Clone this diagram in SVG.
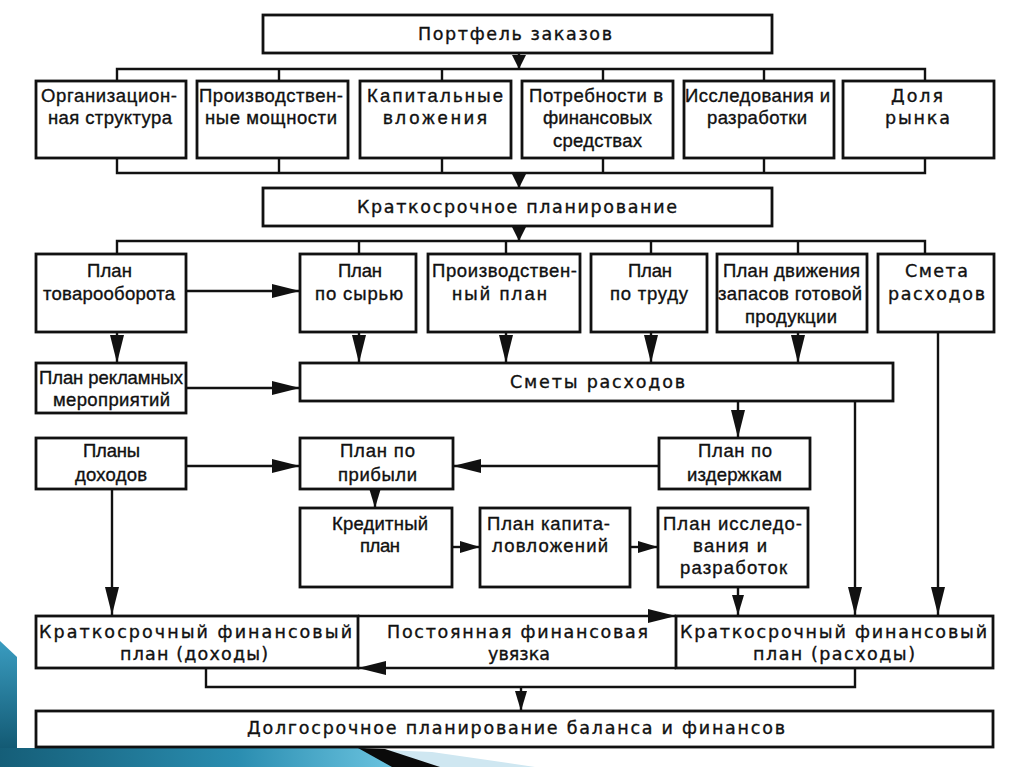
<svg xmlns="http://www.w3.org/2000/svg" width="1024" height="767" viewBox="0 0 1024 767">
<style>
.box{fill:#fff;stroke:#111;stroke-width:2.8}
.ln{fill:none;stroke:#111;stroke-width:2.4}
text{font-family:"Liberation Sans",Arial,sans-serif;font-size:18.5px;fill:#111;stroke:#111;stroke-width:0.35;text-anchor:middle}
text.w{font-family:"DejaVu Sans","Liberation Sans",sans-serif;font-size:17.5px}
</style>
<defs>
<marker id="big" markerUnits="userSpaceOnUse" markerWidth="28" markerHeight="14" refX="28" refY="7" orient="auto"><path d="M0,0 L28,7 L0,14 z" fill="#111"/></marker>
<marker id="mid" markerUnits="userSpaceOnUse" markerWidth="20" markerHeight="12" refX="20" refY="6" orient="auto"><path d="M0,0 L20,6 L0,12 z" fill="#111"/></marker>
<marker id="sm" markerUnits="userSpaceOnUse" markerWidth="14" markerHeight="14" refX="14" refY="7" orient="auto"><path d="M0,0 L14,7 L0,14 z" fill="#111"/></marker>
<linearGradient id="teal" x1="0" y1="0" x2="1" y2="0"><stop offset="0" stop-color="#155e78"/><stop offset="0.6" stop-color="#2a8db0"/><stop offset="1" stop-color="#6cc4e0"/></linearGradient>
<linearGradient id="tealv" x1="0" y1="0" x2="0" y2="1"><stop offset="0" stop-color="#3a9cc0"/><stop offset="1" stop-color="#135a74"/></linearGradient>
</defs>
<rect width="1024" height="767" fill="#fff"/>
<g id="decor">
<polygon points="0,641 17,657 17,748 0,748" fill="url(#tealv)"/>
<polygon points="0,748 365,748 395,767 0,767" fill="url(#teal)"/>
<polygon points="385,750 432,752 535,767 435,767" fill="#cfe7f1"/>
<polygon points="358,748 385,749 440,767 392,767" fill="#0a0a0a"/>
</g>
<g id="connectors">
<line class="ln" x1="519" y1="53" x2="519" y2="69" marker-end="url(#sm)"/>
<path class="ln" d="M117,81 V69 H925 V81 M279,69 V81 M442,69 V81 M603,69 V81 M764,69 V81"/>
<path class="ln" d="M117,158 V173 H925 V158 M279,158 V173 M442,158 V173 M603,158 V173 M764,158 V173"/>
<line class="ln" x1="519" y1="173" x2="519" y2="188" marker-end="url(#sm)"/>
<line class="ln" x1="519" y1="226" x2="519" y2="241" marker-end="url(#sm)"/>
<path class="ln" d="M117,254 V241 H925 V254 M359,241 V254 M506,241 V254 M651,241 V254 M798,241 V254"/>
<line class="ln" x1="186" y1="291" x2="300" y2="291" marker-end="url(#big)"/>
<line class="ln" x1="117" y1="332" x2="117" y2="363" marker-end="url(#big)"/>
<line class="ln" x1="359" y1="332" x2="359" y2="363" marker-end="url(#big)"/>
<line class="ln" x1="506" y1="332" x2="506" y2="363" marker-end="url(#big)"/>
<line class="ln" x1="651" y1="332" x2="651" y2="363" marker-end="url(#big)"/>
<line class="ln" x1="798" y1="332" x2="798" y2="363" marker-end="url(#big)"/>
<line class="ln" x1="186" y1="388" x2="300" y2="388" marker-end="url(#big)"/>
<line class="ln" x1="938" y1="332" x2="938" y2="615" marker-end="url(#big)"/>
<line class="ln" x1="855" y1="401" x2="855" y2="615" marker-end="url(#big)"/>
<line class="ln" x1="738" y1="401" x2="738" y2="438" marker-end="url(#big)"/>
<line class="ln" x1="186" y1="466" x2="300" y2="466" marker-end="url(#big)"/>
<line class="ln" x1="659" y1="466" x2="453" y2="466" marker-end="url(#big)"/>
<line class="ln" x1="375" y1="489" x2="375" y2="508" marker-end="url(#mid)"/>
<line class="ln" x1="452" y1="547" x2="480" y2="547" marker-end="url(#mid)"/>
<line class="ln" x1="630" y1="547" x2="658" y2="547" marker-end="url(#mid)"/>
<line class="ln" x1="738" y1="587" x2="738" y2="615" marker-end="url(#mid)"/>
<line class="ln" x1="112" y1="489" x2="112" y2="615" marker-end="url(#big)"/>
<line class="ln" x1="358" y1="616" x2="676" y2="616" marker-end="url(#big)"/>
<line class="ln" x1="676" y1="668" x2="358" y2="668" marker-end="url(#big)"/>
<path class="ln" d="M206,668 V687 H855 V668"/>
<line class="ln" x1="521" y1="687" x2="521" y2="711" marker-end="url(#mid)"/>
</g>
<g id="portfel"><rect class="box" x="263" y="15" width="509" height="38"/><text class="w" x="515" y="40" textLength="194">Портфель заказов</text></g>
<g id="org"><rect class="box" x="36" y="81" width="150" height="77"/><text x="109" y="102" textLength="136">Организацион-</text><text x="110" y="124" textLength="124">ная структура</text></g>
<g id="proizv"><rect class="box" x="197" y="81" width="151" height="77"/><text x="271" y="102" textLength="144">Производствен-</text><text x="271" y="124" textLength="132">ные мощности</text></g>
<g id="kapital"><rect class="box" x="360" y="81" width="151" height="77"/><text x="435" y="102" textLength="136">Капитальные</text><text x="435" y="124" textLength="104">вложения</text></g>
<g id="potreb"><rect class="box" x="522" y="81" width="151" height="77"/><text x="596" y="102" textLength="134">Потребности в</text><text x="597.5" y="124" textLength="109">финансовых</text><text x="597.5" y="147" textLength="89">средствах</text></g>
<g id="issled"><rect class="box" x="684" y="81" width="150" height="77"/><text x="757.5" y="102" textLength="145">Исследования и</text><text x="757" y="124" textLength="100">разработки</text></g>
<g id="dolya"><rect class="box" x="843" y="81" width="151" height="77"/><text class="w" x="917" y="102" textLength="52">Доля</text><text class="w" x="917.5" y="124" textLength="65">рынка</text></g>
<g id="kratko"><rect class="box" x="263" y="188" width="509" height="38"/><text class="w" x="517" y="213" textLength="320">Краткосрочное планирование</text></g>
<g id="tovar"><rect class="box" x="36" y="254" width="150" height="78"/><text x="109.5" y="277" textLength="45">План</text><text x="109" y="300" textLength="132">товарооборота</text></g>
<g id="syrye"><rect class="box" x="300" y="254" width="116" height="78"/><text x="360" y="277" textLength="44">План</text><text x="359" y="300" textLength="88">по сырью</text></g>
<g id="proizvplan"><rect class="box" x="428" y="254" width="152" height="78"/><text x="504.5" y="277" textLength="145">Производствен-</text><text x="499.5" y="300" textLength="95">ный план</text></g>
<g id="trud"><rect class="box" x="591" y="254" width="116" height="78"/><text x="650" y="277" textLength="44">План</text><text x="649" y="300" textLength="78">по труду</text></g>
<g id="zapasy"><rect class="box" x="717" y="254" width="150" height="78"/><text x="791.5" y="277" textLength="137">План движения</text><text x="790" y="300" textLength="144">запасов готовой</text><text x="791" y="323" textLength="92">продукции</text></g>
<g id="smeta"><rect class="box" x="878" y="254" width="116" height="78"/><text class="w" x="936.5" y="277" textLength="63">Смета</text><text class="w" x="936.5" y="300" textLength="97">расходов</text></g>
<g id="reklama"><rect class="box" x="36" y="363" width="150" height="50"/><text x="111" y="384" textLength="144">План рекламных</text><text x="111.5" y="406" textLength="117">мероприятий</text></g>
<g id="smety"><rect class="box" x="300" y="363" width="593" height="38"/><text class="w" x="597.5" y="388" textLength="175">Сметы расходов</text></g>
<g id="dohody"><rect class="box" x="36" y="438" width="150" height="51"/><text x="111.5" y="457" textLength="57">Планы</text><text x="111" y="481" textLength="72">доходов</text></g>
<g id="pribyl"><rect class="box" x="300" y="438" width="153" height="51"/><text x="377.5" y="457" textLength="75">План по</text><text x="377.5" y="481" textLength="79">прибыли</text></g>
<g id="izderzhki"><rect class="box" x="659" y="438" width="151" height="51"/><text x="735" y="457" textLength="74">План по</text><text x="734.5" y="481" textLength="95">издержкам</text></g>
<g id="kredit"><rect class="box" x="300" y="508" width="152" height="79"/><text x="380" y="530" textLength="96">Кредитный</text><text x="380" y="552" textLength="40">план</text></g>
<g id="kapvl"><rect class="box" x="480" y="508" width="150" height="79"/><text x="548.5" y="530" textLength="123">План капита-</text><text x="550" y="552" textLength="116">ловложений</text></g>
<g id="niokr"><rect class="box" x="658" y="508" width="150" height="79"/><text x="732.5" y="530" textLength="139">План исследо-</text><text x="730" y="552" textLength="74">вания и</text><text x="733.5" y="574" textLength="107">разработок</text></g>
<g id="fin_doh"><rect class="box" x="36" y="616" width="322" height="52"/><text class="w" x="195.5" y="638" textLength="313">Краткосрочный финансовый</text><text class="w" x="194" y="660" textLength="148">план (доходы)</text></g>
<g id="uvyazka"><text class="w" x="517.5" y="638" textLength="261">Постоянная финансовая</text><text class="w" x="519" y="660" textLength="62">увязка</text></g>
<g id="fin_rash"><rect class="box" x="676" y="616" width="317" height="52"/><text class="w" x="833.5" y="638" textLength="307">Краткосрочный финансовый</text><text class="w" x="834" y="660" textLength="162">план (расходы)</text></g>
<g id="dolgo"><rect class="box" x="36" y="711" width="957" height="36"/><text class="w" x="516" y="734" textLength="538">Долгосрочное планирование баланса и финансов</text></g>
</svg>
